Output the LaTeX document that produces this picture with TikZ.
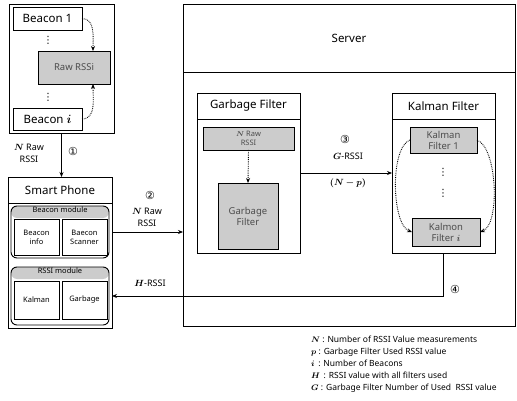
\documentclass[tikz,border=0pt]{standalone}
\usepackage{amsmath}
\usepackage{bm}
\usepackage{fontspec}
\setmainfont{Noto Sans}
\newfontfamily\symf{DejaVu Sans}
\usetikzlibrary{arrows.meta}
\newcommand{\circnum}[1]{{\symf\fontsize{11}{11}\selectfont #1}}
\newcommand{\mv}[1]{$\bm{#1}$}
% style, name, x1, y1, x2, y2, text
\newcommand{\pbox}[7]{%
  \pgfmathsetmacro{\bxc}{(#3+#5)/2}\pgfmathsetmacro{\byc}{(#4+#6)/2}%
  \pgfmathsetmacro{\bxw}{#5-#3}\pgfmathsetmacro{\bxh}{#6-#4}%
  \node[#1, minimum width=\bxw pt, minimum height=\bxh pt] (#2) at (\bxc,\byc) {#7};}
\tikzset{
  box/.style={draw, line width=0.9pt, inner sep=0pt, outer sep=0pt, fill=white, align=center},
  graybox/.style={box, fill=gray!40, text=black!70},
  module/.style={box, rounded corners=6pt,
    path picture={\fill[gray!40] (path picture bounding box.north west) rectangle ([yshift=-12pt]path picture bounding box.north east);}},
  big/.style={font=\fontsize{11.5}{13}\selectfont},
  mid/.style={font=\fontsize{9.5}{11}\selectfont},
  small/.style={font=\fontsize{7.5}{9}\selectfont},
  lbl/.style={font=\fontsize{9}{12}\selectfont, align=center, inner sep=1pt},
  vdot/.style={inner sep=0pt, font=\symf\fontsize{10}{10}\selectfont},
  arr/.style={-{Stealth[length=5pt,width=4pt]}, line width=0.8pt},
  dotarr/.style={arr, densely dotted, line width=0.9pt}
}
\begin{document}
\begin{tikzpicture}[x=1pt,y=-1pt]
\useasboundingbox (0,0) rectangle (517,401);
% beacons
\pbox{box}{beacons}{9}{4}{114}{133}{}
\pbox{box,big}{b1}{13}{7}{82}{30}{Beacon 1}
\pbox{graybox,mid}{raw}{38}{51}{110}{84}{Raw RSSi}
\pbox{box,big}{bi}{13}{108}{82}{130}{Beacon \mv{i}}
\node[vdot] (bdots1) at (48,40) {⋮};
\node[vdot] (bdots2) at (48,97) {⋮};
\draw[dotarr] (b1.east) to[out=0,in=90] ([xshift=19pt]raw.north);
\draw[dotarr] (bi.east) to[out=0,in=-90] ([xshift=19pt]raw.south);
% smart phone
\pbox{box}{phone}{8}{177}{112}{328}{}
\pbox{box,big}{phonehd}{8}{177}{112}{203}{Smart Phone}
\pbox{module}{bmod}{11}{206}{109}{258}{}
\node[small, below=0pt, inner sep=1pt] (bmodt) at (bmod.north) {Beacon module};
\pbox{box,small}{binfo}{14}{219}{59}{255}{Beacon\\info}
\pbox{box,small}{bscan}{62}{219}{107}{255}{Baecon\\Scanner}
\pbox{module}{rmod}{11}{267}{109}{325}{}
\node[small, below=0pt, inner sep=1pt] (rmodt) at (rmod.north) {RSSI module};
\pbox{box,small}{kal}{14}{281}{59}{319}{Kalman}
\pbox{box,small}{garb}{62}{281}{107}{319}{Garbage}
% server
\pbox{box}{server}{183}{4}{515}{326}{}
\pbox{box,big}{serverhd}{183}{4}{515}{72}{Server}
\pbox{box}{gf}{197}{93}{300}{253}{}
\pbox{box,big}{gfhd}{197}{93}{300}{119}{Garbage Filter}
\pbox{graybox,small}{nraw}{203}{127}{294}{150}{\mv{N} Raw\\RSSI}
\pbox{graybox,mid}{gfb}{218}{183}{278}{249}{Garbage\\Filter}
\pbox{box}{kf}{392}{93}{495}{253}{}
\pbox{box,big}{kfhd}{392}{93}{495}{119}{Kalman Filter}
\pbox{graybox,mid}{kf1}{410}{127}{477}{153}{Kalman\\Filter 1}
\pbox{graybox,mid}{kfi}{412}{218}{480}{246}{Kalmon\\Filter \mv{i}}
\node[vdot] (kdots1) at (443,172) {⋮};
\node[vdot] (kdots2) at (443,193) {⋮};
\draw[dotarr] (nraw.south) -- (gfb.north);
\draw[dotarr] (kf1.west) to[out=200,in=160,looseness=0.6] (kfi.west);
\draw[dotarr] (kf1.east) to[out=-20,in=20,looseness=0.6] (kfi.east);
% flows
\draw[arr] (beacons.south) -- (beacons.south |- phone.north);
\node[lbl] (l1) at (29,153) {\mv{N} Raw\\RSSI};
\node[lbl] (c1) at (73,151) {\circnum{①}};
\draw[arr] (phone.east |- bmod.east) -- (server.west |- bmod.east);
\node[lbl] (c2) at (150,195) {\circnum{②}};
\node[lbl] (l2) at (147,217) {\mv{N} Raw\\RSSI};
\draw[arr] (gf.east) -- (kf.west);
\node[lbl] (c3) at (345,139) {\circnum{③}};
\node[lbl] (l3) at (348,156) {\mv{G}-RSSI};
\node[lbl] (l3b) at (348,183) {$\bm{(N-p)}$};
\draw[arr] (kf.south) |- (phone.east |- rmod.east);
\node[lbl] (c4) at (455,289) {\circnum{④}};
\node[lbl] (l4) at (150,283) {\mv{H}-RSSI};
% legend
\node[anchor=north west, align=left, inner sep=0pt, font=\fontsize{8.5}{12}\selectfont] (legend) at (311,336)
 {\mv{N} : Number of RSSI Value measurements\\
  \mv{p} : Garbage Filter Used RSSI value\\
  \mv{i} \,: Number of Beacons\\
  \mv{H} \,: RSSI value with all filters used\\
  \mv{G} : Garbage Filter Number of Used \ RSSI value};
\end{tikzpicture}
\end{document}
